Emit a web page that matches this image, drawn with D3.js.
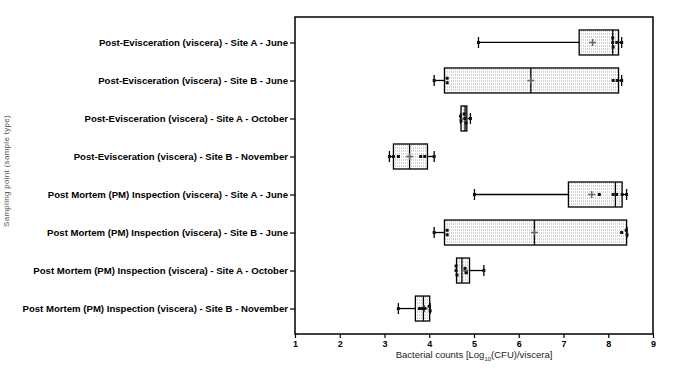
<!DOCTYPE html>
<html>
<head>
<meta charset="utf-8">
<script src="https://cdn.jsdelivr.net/npm/d3@7"></script>
<style>
  body { margin: 0; background: #fff; }
  svg { display: block; font-family: "Liberation Sans", Arial, sans-serif; }
</style>
</head>
<body>
<div id="chart"></div>
<script>
// categories, top to bottom
const categories = [
  "Post-Evisceration (viscera) - Site A - June",
  "Post-Evisceration (viscera) - Site B - June",
  "Post-Evisceration (viscera) - Site A - October",
  "Post-Evisceration (viscera) - Site B - November",
  "Post Mortem (PM) Inspection (viscera) - Site A - June",
  "Post Mortem (PM) Inspection (viscera) - Site B - June",
  "Post Mortem (PM) Inspection (viscera) - Site A - October",
  "Post Mortem (PM) Inspection (viscera) - Site B - November"
];

// box stats: [min, q1, median, q3, max]
const boxStats = [
  [5.10, 7.35, 8.10, 8.23, 8.30],
  [4.11, 4.34, 6.27, 8.23, 8.30],
  [4.70, 4.71, 4.80, 4.84, 4.92],
  [3.11, 3.20, 3.56, 3.96, 4.11],
  [5.01, 7.11, 8.16, 8.31, 8.41],
  [4.11, 4.34, 6.35, 8.41, 8.42],
  [4.61, 4.61, 4.73, 4.90, 5.22],
  [3.31, 3.69, 3.87, 4.01, 4.02]
];

// individual samples
const samples = [
  [5.10, 8.10, 8.10, 8.11, 8.19, 8.30],
  [4.11, 4.40, 4.40, 8.11, 8.20, 8.30],
  [4.70, 4.71, 4.78, 4.80, 4.82, 4.92],
  [3.11, 3.20, 3.31, 3.81, 3.90, 4.11],
  [5.01, 7.80, 8.11, 8.19, 8.31, 8.41],
  [4.11, 4.40, 4.40, 8.30, 8.40, 8.42],
  [4.60, 4.60, 4.62, 4.80, 4.83, 5.22],
  [3.31, 3.78, 3.84, 3.90, 4.00, 4.02]
];

// means (+ markers)
const means = [7.65, 6.27, 4.79, 3.56, 7.63, 6.35, 4.80, 3.89];

const xTicks = [1, 2, 3, 4, 5, 6, 7, 8, 9];

const W = 685, H = 375;
const margin = { top: 17, right: 32, bottom: 41, left: 295 };
const iw = W - margin.left - margin.right;
const ih = H - margin.top - margin.bottom;

const svg = d3.select("#chart").append("svg")
  .attr("width", W)
  .attr("height", H);

// stipple fill for the boxes
const defs = svg.append("defs");
const pat = defs.append("pattern")
  .attr("id", "stipple")
  .attr("patternUnits", "userSpaceOnUse")
  .attr("width", 2).attr("height", 3);
pat.append("rect").attr("width", 2).attr("height", 3).attr("fill", "#fff");
pat.append("rect").attr("width", 1).attr("height", 1).attr("fill", "#a8a8a8");

const g = svg.append("g").attr("transform", `translate(${margin.left},${margin.top})`);

const x = d3.scaleLinear().domain([1, 9]).range([0, iw]);
const y = d3.scalePoint().domain(categories).range([0, ih]).padding(0.67);

const boxH = 25;
const capH = 11;

// x axis
const xAxis = g.append("g")
  .attr("transform", `translate(0,${ih})`)
  .call(d3.axisBottom(x).tickValues(xTicks).tickFormat(d3.format("d")).tickSize(4).tickPadding(3));
xAxis.select(".domain").remove();
xAxis.selectAll("line").attr("stroke", "#000").attr("stroke-width", 1.2);
xAxis.selectAll("text")
  .attr("fill", "#000")
  .style("font-size", "9px")
  .style("font-weight", "bold");

// y axis
const yAxis = g.append("g")
  .call(d3.axisLeft(y).tickSize(5).tickPadding(2));
yAxis.select(".domain").remove();
yAxis.selectAll("line").attr("stroke", "#000").attr("stroke-width", 1.2);
yAxis.selectAll("text")
  .attr("fill", "#000")
  .style("font-size", "9.6px")
  .style("font-weight", "bold");

// frame
g.append("rect")
  .attr("width", iw).attr("height", ih)
  .attr("fill", "none")
  .attr("stroke", "#000")
  .attr("stroke-width", 1.5);

const rows = g.selectAll("g.row")
  .data(categories.map((c, i) => ({ c, s: boxStats[i], pts: samples[i], m: means[i] })))
  .join("g")
  .attr("class", "row")
  .attr("transform", d => `translate(0,${y(d.c)})`);

// whiskers
rows.append("line")
  .attr("x1", d => x(d.s[0])).attr("x2", d => x(d.s[1]))
  .attr("stroke", "#000").attr("stroke-width", 1.3);
rows.append("line")
  .attr("x1", d => x(d.s[3])).attr("x2", d => x(d.s[4]))
  .attr("stroke", "#000").attr("stroke-width", 1.3);
rows.selectAll("line.cap")
  .data(d => [d.s[0], d.s[4]])
  .join("line")
  .attr("class", "cap")
  .attr("x1", v => x(v)).attr("x2", v => x(v))
  .attr("y1", -capH / 2).attr("y2", capH / 2)
  .attr("stroke", "#000").attr("stroke-width", 1.3);

// box
rows.append("rect")
  .attr("x", d => x(d.s[1]))
  .attr("y", -boxH / 2)
  .attr("width", d => Math.max(1, x(d.s[3]) - x(d.s[1])))
  .attr("height", boxH)
  .attr("fill", "url(#stipple)")
  .attr("stroke", "#000")
  .attr("stroke-width", 1.3);

// median
rows.append("line")
  .attr("x1", d => x(d.s[2])).attr("x2", d => x(d.s[2]))
  .attr("y1", -boxH / 2).attr("y2", boxH / 2)
  .attr("stroke", "#000").attr("stroke-width", 1.3);

// mean marker
rows.append("path")
  .attr("d", d => `M${x(d.m) - 3.5},0H${x(d.m) + 3.5}M${x(d.m)},-3.5V3.5`)
  .attr("stroke", "#666").attr("stroke-width", 1.5);

// points, stacked vertically when they overlap
function stack(pts) {
  const sorted = pts.slice().sort((a, b) => a - b);
  const groups = [];
  sorted.forEach(v => {
    const last = groups[groups.length - 1];
    if (last && x(v) - x(last[last.length - 1]) < 2.5) last.push(v);
    else groups.push([v]);
  });
  const out = [];
  groups.forEach(gr => {
    gr.forEach((v, k) => out.push({ v, dy: (k - (gr.length - 1) / 2) * 4.5 }));
  });
  return out;
}

rows.selectAll("rect.pt")
  .data(d => stack(d.pts))
  .join("rect")
  .attr("class", "pt")
  .attr("x", p => x(p.v) - 1.5)
  .attr("y", p => p.dy - 1.5)
  .attr("width", 3).attr("height", 3)
  .attr("fill", "#111");

// axis titles
const xt = svg.append("text")
  .attr("x", margin.left + iw / 2)
  .attr("y", H - 17)
  .attr("text-anchor", "middle")
  .style("font-size", "9.5px")
  .attr("fill", "#222");
xt.append("tspan").text("Bacterial counts [Log");
xt.append("tspan").attr("dy", 2.5).style("font-size", "6px").text("10");
xt.append("tspan").attr("dy", -2.5).text("(CFU)/viscera]");

svg.append("text")
  .attr("transform", `translate(9,171) rotate(-90)`)
  .attr("text-anchor", "middle")
  .style("font-size", "8px")
  .style("letter-spacing", "0.3px")
  .attr("fill", "#555")
  .text("Sampling point (sample type)");
</script>
</body>
</html>
